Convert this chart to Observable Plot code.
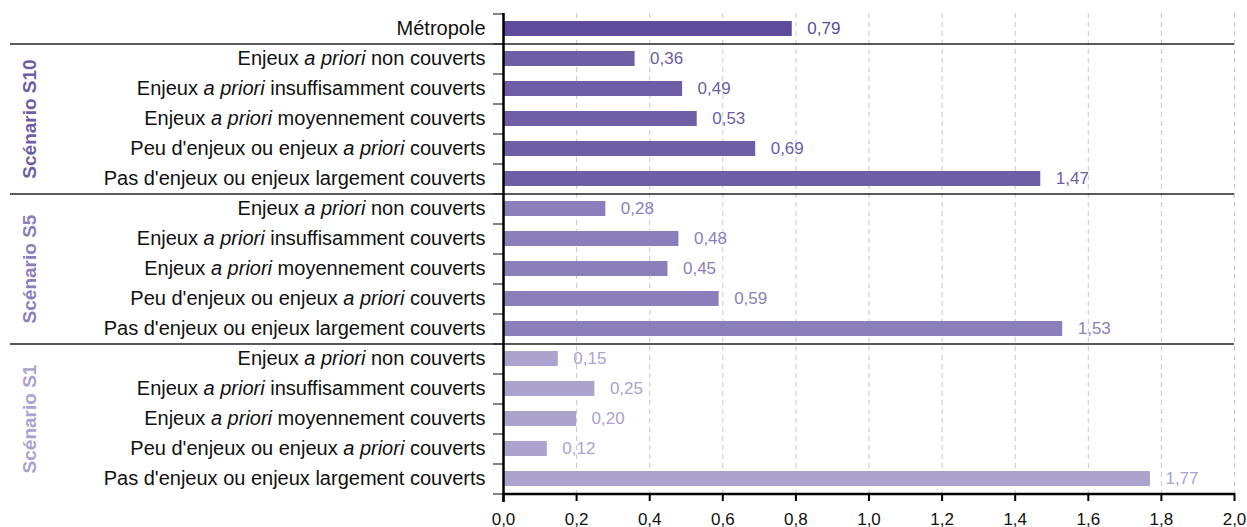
<!DOCTYPE html>
<html>
<head>
<meta charset="utf-8">
<script src="https://cdn.jsdelivr.net/npm/d3@7"></script>
<script src="https://cdn.jsdelivr.net/npm/@observablehq/plot@0.6"></script>
<style>
  html, body { margin: 0; padding: 0; background: #fff; }
  #chart svg { display: block; }
</style>
</head>
<body>
<div id="chart"></div>
<script>
// ---- data ----
const categories = [
  "Enjeux a priori non couverts",
  "Enjeux a priori insuffisamment couverts",
  "Enjeux a priori moyennement couverts",
  "Peu d'enjeux ou enjeux a priori couverts",
  "Pas d'enjeux ou enjeux largement couverts"
];
const scenarios = ["Scénario S10", "Scénario S5", "Scénario S1"];
const s10Values = [0.36, 0.49, 0.53, 0.69, 1.47];
const s5Values = [0.28, 0.48, 0.45, 0.59, 1.53];
const s1Values = [0.15, 0.25, 0.20, 0.12, 1.77];
const metropoleLabel = "Métropole";
const metropoleValue = 0.79;
const xTicks = [0, 0.2, 0.4, 0.6, 0.8, 1.0, 1.2, 1.4, 1.6, 1.8, 2.0];

const colors = {
  "Métropole": "#5c4c9b",
  "Scénario S10": "#6d5ea6",
  "Scénario S5": "#8b7fbb",
  "Scénario S1": "#aba2ce"
};

// ---- build rows ----
const rows = [{key: "M|" + metropoleLabel, label: metropoleLabel, group: "Métropole", value: metropoleValue}];
const seriesValues = [s10Values, s5Values, s1Values];
scenarios.forEach((s, si) => {
  categories.forEach((c, ci) => {
    rows.push({key: s + "|" + c, label: c, group: s, value: seriesValues[si][ci]});
  });
});
const yDomain = rows.map(r => r.key);
const groupFirst = scenarios.map(s => s + "|" + categories[0]);
const groupMiddle = scenarios.map(s => ({key: s + "|" + categories[2], group: s}));
const fmt = v => v.toFixed(2).replace(".", ",");
const fmtTick = v => v.toFixed(1).replace(".", ",");
const FONT = "Liberation Sans, Arial, Helvetica, sans-serif";

const chart = Plot.plot({
  width: 1247,
  height: 527,
  marginLeft: 503,
  marginRight: 13,
  marginTop: 13,
  marginBottom: 34,
  style: {fontFamily: FONT, fontSize: "17px", color: "#111", background: "#fff", overflow: "visible"},
  x: {domain: [0, 2], ticks: xTicks, tickFormat: fmtTick, label: null},
  y: {domain: yDomain, paddingInner: 0.5, paddingOuter: 0.25, align: 0.5, label: null},
  marks: [
    // dashed grid
    Plot.gridX(xTicks, {stroke: "#c8c8c8", strokeOpacity: 1, strokeDasharray: "5,4", strokeWidth: 1}),
    // bars
    Plot.barX(rows, {y: "key", x: "value", fill: d => colors[d.group]}),
    // value labels
    Plot.text(rows, {y: "key", x: "value", text: d => fmt(d.value), fill: d => colors[d.group],
      textAnchor: "start", dx: 15, fontSize: 17}),
    // row boundary ticks (left of axis)
    Plot.ruleY(rows, {y: "key", x1: 0, x2: 0, dy: -15, insetLeft: -10, stroke: "#333", strokeWidth: 1.2}),
    Plot.ruleY(rows.slice(-1), {y: "key", x1: 0, x2: 0, dy: 15, insetLeft: -10, stroke: "#333", strokeWidth: 1.2}),
    // group separators
    Plot.ruleY(groupFirst, {y: d => d, dy: -15, insetLeft: -493, stroke: "#222", strokeWidth: 1.3}),
    // group labels
    Plot.text(groupMiddle, {y: "key", frameAnchor: "left", textAnchor: "middle", dx: -474, rotate: -90, text: "group",
      fill: d => colors[d.group], fontWeight: "bold", fontSize: 19}),
    // axes
    Plot.axisY({tickSize: 0, tickPadding: 18, tickFormat: k => k.split("|")[1], fontSize: 20, fill: "#111", label: null}),
    Plot.axisX({ticks: xTicks, tickFormat: fmtTick, tickSize: 8, tickPadding: 11, strokeWidth: 2, stroke: "#000", fontSize: 17, label: null}),
    Plot.ruleY([0], {y: () => yDomain[yDomain.length - 1], dy: 15, stroke: "#000", strokeWidth: 2.5}),
    Plot.ruleX([0], {stroke: "#000", strokeWidth: 2.5, insetBottom: -9})
  ]
});

// italicise "a priori" in y-axis labels
d3.select(chart).selectAll("g[aria-label='y-axis tick label'] text").each(function() {
  const t = d3.select(this);
  const s = t.text();
  const i = s.indexOf("a priori");
  if (i >= 0) {
    t.text(null);
    t.append("tspan").text(s.slice(0, i));
    t.append("tspan").attr("font-style", "italic").text("a priori");
    t.append("tspan").text(s.slice(i + 8));
  }
});

document.getElementById("chart").appendChild(chart);
</script>
</body>
</html>
